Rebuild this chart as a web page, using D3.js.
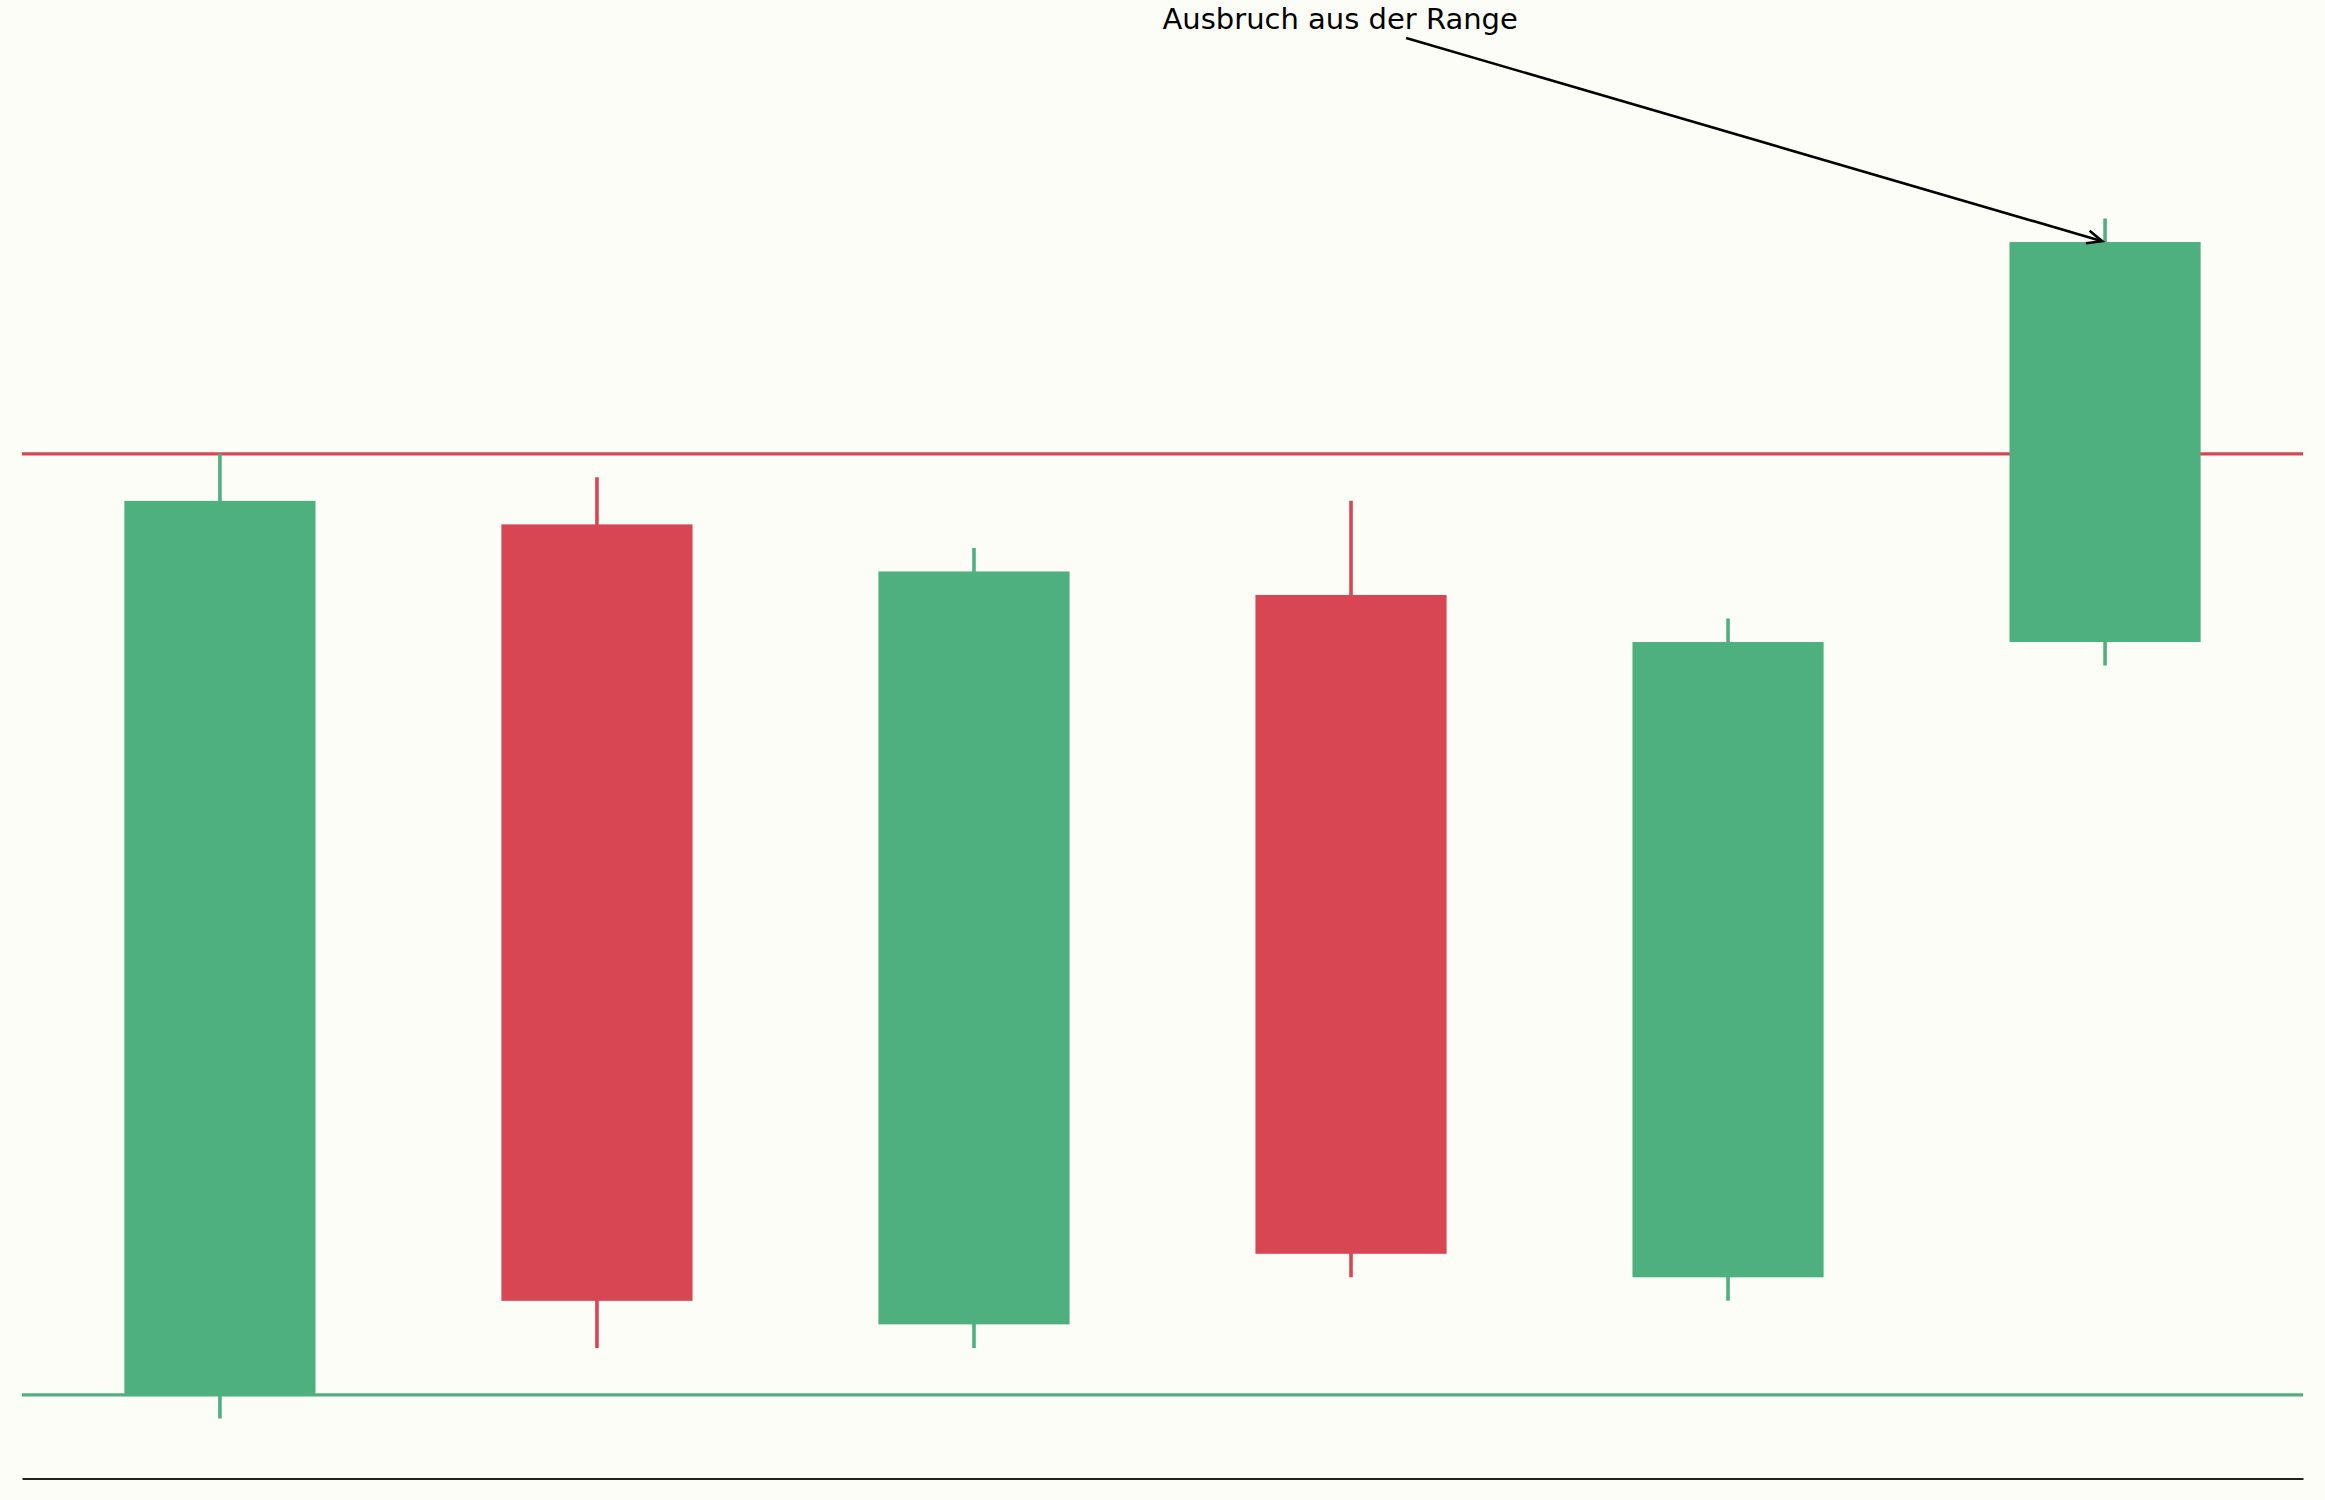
<!DOCTYPE html>
<html>
<head>
<meta charset="utf-8">
<script src="https://cdn.jsdelivr.net/npm/d3@7/dist/d3.min.js"></script>
<style>
  html, body { margin: 0; padding: 0; background: #FDFDF8; }
  svg { display: block; }
</style>
</head>
<body>
<svg id="chart" width="2325" height="1500"></svg>
<script>
// ---- data ----
const candleIndex = [0, 1, 2, 3, 4, 5];
const openVals  = [100, 118.5, 101.5, 117, 102.5, 116];
const closeVals = [119, 102, 117.5, 103, 116, 124.5];
const highVals  = [120, 119.5, 118, 119, 116.5, 125];
const lowVals   = [99.5, 101, 101, 102.5, 102, 115.5];
const supportLevel = [100];
const resistanceLevel = [120];
const annotationText = ["Ausbruch aus der Range"];
const annotationTextPos = [2.5, 129];
const annotationTarget = [5, 124.5];

// ---- layout ----
const W = 2325, H = 1500;
const plotLeft = 22, plotRight = 2303, plotTop = 158.5, plotBottom = 1478.5;
const green = "#4FB07F", red = "#D94653";

const svg = d3.select("#chart");
svg.append("rect").attr("width", W).attr("height", H).attr("fill", "#FDFDF8");

const xMin = -0.525, xMax = 5.525;
const yMin = 98.225, yMax = 126.275;
const x = d3.scaleLinear().domain([xMin, xMax]).range([plotLeft, plotRight]);
const y = d3.scaleLinear().domain([yMin, yMax]).range([plotBottom, plotTop]);

const candles = candleIndex.map((i, k) => ({
  i, open: openVals[k], close: closeVals[k], high: highVals[k], low: lowVals[k]
}));

// horizontal levels
svg.append("line")
  .attr("x1", x(xMin)).attr("x2", x(xMax))
  .attr("y1", y(resistanceLevel[0])).attr("y2", y(resistanceLevel[0]))
  .attr("stroke", red).attr("stroke-width", 3.2);
svg.append("line")
  .attr("x1", x(xMin)).attr("x2", x(xMax))
  .attr("y1", y(supportLevel[0])).attr("y2", y(supportLevel[0]))
  .attr("stroke", green).attr("stroke-width", 3.2);

const halfW = 0.2535;
const g = svg.append("g");
g.selectAll("line.wick").data(candles).enter().append("line")
  .attr("class", "wick")
  .attr("x1", d => x(d.i)).attr("x2", d => x(d.i))
  .attr("y1", d => y(d.high)).attr("y2", d => y(d.low))
  .attr("stroke", d => d.close >= d.open ? green : red)
  .attr("stroke-width", 3.6);
g.selectAll("rect.body").data(candles).enter().append("rect")
  .attr("class", "body")
  .attr("x", d => x(d.i - halfW))
  .attr("width", d => x(d.i + halfW) - x(d.i - halfW))
  .attr("y", d => y(Math.max(d.open, d.close)))
  .attr("height", d => Math.abs(y(d.open) - y(d.close)))
  .attr("fill", d => d.close >= d.open ? green : red);

// bottom axis spine
const xAxis = d3.axisBottom(x).tickValues([]).tickSize(0).tickSizeOuter(0);
const axG = svg.append("g").attr("transform", `translate(0,${plotBottom})`).call(xAxis);
axG.select(".domain").attr("stroke", "#222").attr("stroke-width", 2.2);
axG.selectAll("text").remove();

// annotation
const txt = svg.append("text")
  .attr("x", x(annotationTextPos[0]))
  .attr("y", y(annotationTextPos[1]) - 1.5)
  .attr("font-family", "DejaVu Sans")
  .attr("font-size", 29)
  .attr("fill", "#000")
  .text(annotationText[0]);

const bb = txt.node().getBBox();
const cx = bb.x + bb.width / 2, cy = bb.y + bb.height / 2;
const tx = x(annotationTarget[0]), ty = y(annotationTarget[1]);
const dx = tx - cx, dy = ty - cy, len = Math.hypot(dx, dy);
const ux = dx / len, uy = dy / len;
const tExit = (bb.y + bb.height - cy) / uy;
const startT = tExit + 8;
const sx = cx + ux * startT, sy = cy + uy * startT;
const ex = tx - ux * 3, ey = ty - uy * 3;
svg.append("line")
  .attr("x1", sx).attr("y1", sy).attr("x2", ex).attr("y2", ey)
  .attr("stroke", "#000").attr("stroke-width", 2.6);
const hl = 15, hw = 6.5;
const bx = ex - ux * hl, by = ey - uy * hl;
const px = -uy, py = ux;
svg.append("path")
  .attr("d", `M${bx + px * hw},${by + py * hw}L${ex},${ey}L${bx - px * hw},${by - py * hw}`)
  .attr("fill", "none").attr("stroke", "#000").attr("stroke-width", 2.6)
  .attr("stroke-linejoin", "miter");
</script>
</body>
</html>
